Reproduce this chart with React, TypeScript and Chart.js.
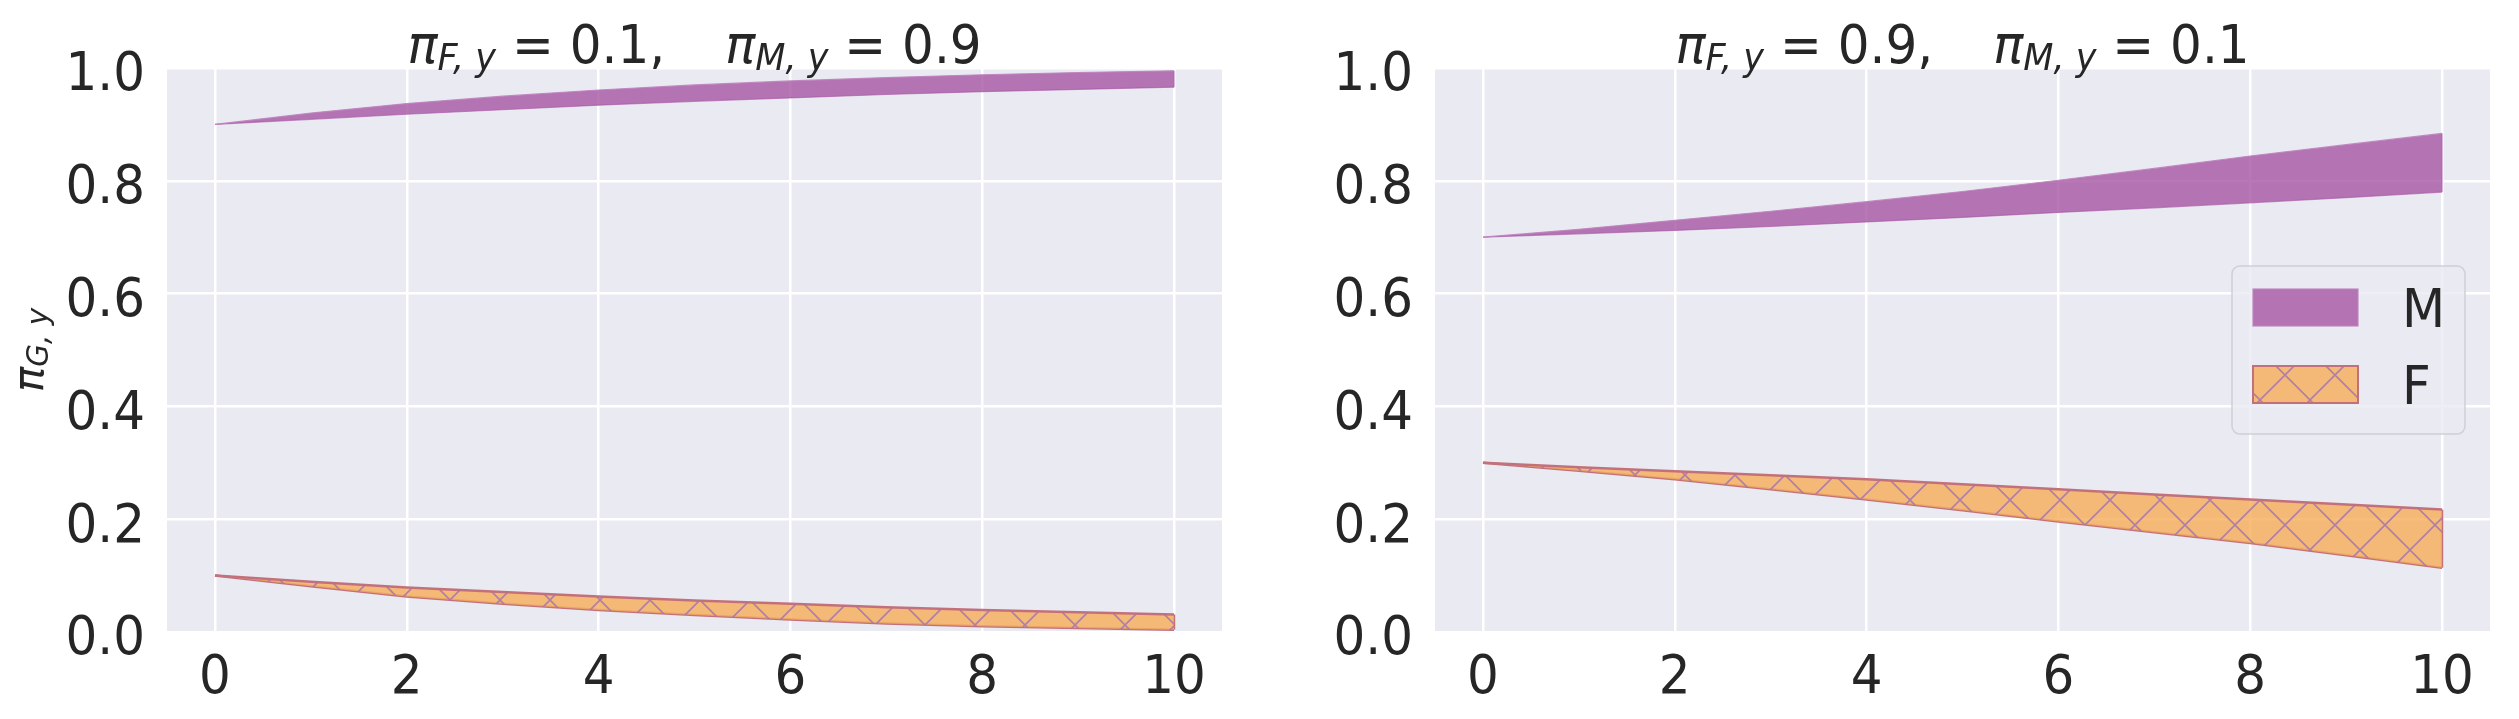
import React, { useEffect, useRef } from 'react';
import { Chart, registerables } from 'chart.js';

Chart.register(...registerables);

// Time steps and axis ticks
const steps = [0, 1, 2, 3, 4, 5, 6, 7, 8, 9, 10];
const xTicks = [0, 2, 4, 6, 8, 10];
const yTicks = [0, 0.2, 0.4, 0.6, 0.8, 1.0];

// Panel 1: pi_F,y = 0.1, pi_M,y = 0.9
const leftPiF = '0.1';
const leftPiM = '0.9';
const leftMUpper = [0.900, 0.920, 0.937, 0.950, 0.961, 0.970, 0.977, 0.983, 0.988, 0.992, 0.995];
const leftMLower = [0.900, 0.909, 0.918, 0.926, 0.934, 0.941, 0.947, 0.953, 0.958, 0.962, 0.966];
const leftFUpper = [0.100, 0.089, 0.079, 0.071, 0.063, 0.056, 0.050, 0.044, 0.039, 0.035, 0.031];
const leftFLower = [0.100, 0.081, 0.063, 0.050, 0.039, 0.030, 0.022, 0.015, 0.010, 0.007, 0.004];

// Panel 2: pi_F,y = 0.9, pi_M,y = 0.1
const rightPiF = '0.9';
const rightPiM = '0.1';
const rightMUpper = [0.700, 0.714, 0.730, 0.746, 0.763, 0.781, 0.801, 0.822, 0.844, 0.864, 0.884];
const rightMLower = [0.700, 0.706, 0.712, 0.719, 0.727, 0.735, 0.744, 0.752, 0.761, 0.770, 0.780];
const rightFUpper = [0.300, 0.292, 0.285, 0.278, 0.271, 0.262, 0.253, 0.244, 0.235, 0.226, 0.217];
const rightFLower = [0.300, 0.286, 0.271, 0.253, 0.235, 0.216, 0.196, 0.177, 0.158, 0.136, 0.114];

const groupNames = ['M', 'F'];

const FONT = '"DejaVu Sans", sans-serif';
const TEXT = '#262626';
const PANEL_BG = '#eaeaf2';
const M_FILL = 'rgba(166, 86, 163, 0.8)';
const M_EDGE = 'rgba(190, 130, 190, 0.9)';
const F_FILL = 'rgba(247, 175, 92, 0.82)';
const F_EDGE = '#c2717c';
const F_HATCH = '#b07fa6';
const TEXT_SIZE = 50;
const STRETCH = 1.06; // glyphs are a little taller than wide

type Part = { t?: string; sub?: boolean; italic?: boolean; gap?: number };

// Text drawn with a slight vertical stretch about its baseline
function drawText(ctx: CanvasRenderingContext2D, text: string, x: number, baseline: number, align: CanvasTextAlign, size: number) {
  ctx.save();
  ctx.translate(x, baseline);
  ctx.scale(1, STRETCH);
  ctx.font = `${size}px ${FONT}`;
  ctx.textAlign = align;
  ctx.textBaseline = 'alphabetic';
  ctx.fillStyle = TEXT;
  ctx.fillText(text, 0, 0);
  ctx.restore();
}

function drawMath(ctx: CanvasRenderingContext2D, parts: Part[], cx: number, baseline: number, size: number, stretch: number) {
  const subSize = size * 0.7;
  const fontOf = (p: Part) => `${p.italic ? 'italic ' : ''}${p.sub ? subSize : size}px ${FONT}`;
  const widths = parts.map((p) => {
    if (p.gap) return p.gap * size;
    ctx.font = fontOf(p);
    return ctx.measureText(p.t || '').width;
  });
  const total = widths.reduce((a, b) => a + b, 0);
  let x = cx - total / 2;
  ctx.save();
  ctx.textAlign = 'left';
  ctx.textBaseline = 'alphabetic';
  ctx.fillStyle = TEXT;
  parts.forEach((p, i) => {
    if (!p.gap) {
      ctx.save();
      ctx.translate(x, baseline + (p.sub ? size * 0.13 : 0));
      ctx.scale(1, stretch);
      ctx.font = fontOf(p);
      ctx.fillText(p.t || '', 0, 0);
      ctx.restore();
    }
    x += widths[i];
  });
  ctx.restore();
}

function titleParts(piF: string, piM: string): Part[] {
  return [
    { t: 'π', italic: true },
    { t: 'F, y', italic: true, sub: true },
    { t: ' = ' + piF + ',' },
    { gap: 1.2 },
    { t: 'π', italic: true },
    { t: 'M, y', italic: true, sub: true },
    { t: ' = ' + piM },
  ];
}

function makeHatch(): CanvasPattern | string {
  const tile = document.createElement('canvas');
  const s = 50;
  tile.width = s;
  tile.height = s;
  const c = tile.getContext('2d');
  if (!c) return F_FILL;
  c.fillStyle = F_FILL;
  c.fillRect(0, 0, s, s);
  c.strokeStyle = F_HATCH;
  c.lineWidth = 1.6;
  c.beginPath();
  c.moveTo(-5, -5);
  c.lineTo(s + 5, s + 5);
  c.moveTo(-5, s + 5);
  c.lineTo(s + 5, -5);
  c.stroke();
  const pat = c.createPattern(tile, 'repeat');
  return pat || F_FILL;
}

type PanelSpec = {
  piF: string;
  piM: string;
  mUpper: number[];
  mLower: number[];
  fUpper: number[];
  fLower: number[];
  yLabel: boolean;
  legend: boolean;
  axisWidth: number;
  padRight: number;
};

function buildChart(canvas: HTMLCanvasElement, spec: PanelSpec): Chart {
  const hatch = makeHatch();
  const pts = (arr: number[]) => steps.map((x, i) => ({ x, y: arr[i] }));
  const last = steps.length - 1;
  const endEdge = (lo: number[], hi: number[]) => [
    { x: steps[last], y: lo[last] },
    { x: steps[last], y: hi[last] },
  ];

  const common = { pointRadius: 0, pointHoverRadius: 0, tension: 0 };

  const panelPlugin = {
    id: 'panelDecor',
    beforeDraw(chart: any) {
      const { ctx, chartArea } = chart;
      ctx.save();
      ctx.fillStyle = PANEL_BG;
      ctx.fillRect(chartArea.left, chartArea.top, chartArea.right - chartArea.left, chartArea.bottom - chartArea.top);
      ctx.restore();
    },
    afterDraw(chart: any) {
      const { ctx, chartArea, scales } = chart;
      const cx = (chartArea.left + chartArea.right) / 2;

      // tick labels
      const capHalf = (0.729 * TEXT_SIZE * STRETCH) / 2;
      yTicks.forEach((v) => {
        const py = scales.y.getPixelForValue(v);
        drawText(ctx, v.toFixed(1), chartArea.left - 22, py + 3 + capHalf, 'right', TEXT_SIZE);
      });
      xTicks.forEach((v) => {
        const px = scales.x.getPixelForValue(v);
        drawText(ctx, String(v), px, chartArea.bottom + 61, 'center', TEXT_SIZE);
      });

      drawMath(ctx, titleParts(spec.piF, spec.piM), cx, 63, TEXT_SIZE, STRETCH);

      if (spec.yLabel) {
        const cy = (chartArea.top + chartArea.bottom) / 2;
        ctx.save();
        ctx.translate(43, cy);
        ctx.rotate(-Math.PI / 2);
        drawMath(ctx, [{ t: 'π', italic: true }, { t: 'G, y', italic: true, sub: true }], 0, 0, 42, 1);
        ctx.restore();
      }

      if (spec.legend) {
        const w = 233;
        const h = 168;
        const right = chartArea.right - 25;
        const left = right - w;
        const top = (chartArea.top + chartArea.bottom) / 2 - h / 2;
        ctx.save();
        ctx.beginPath();
        ctx.roundRect(left, top, w, h, 8);
        ctx.fillStyle = 'rgba(234, 234, 242, 0.8)';
        ctx.fill();
        ctx.lineWidth = 1.5;
        ctx.strokeStyle = 'rgba(204, 204, 210, 0.9)';
        ctx.stroke();

        const fills = [M_FILL, hatch];
        const edges = [M_EDGE, F_EDGE];
        const edgeW = [1.2, 2];
        groupNames.forEach((name, i) => {
          const py = top + 23 + i * 77;
          ctx.fillStyle = PANEL_BG;
          ctx.fillRect(left + 21, py, 105, 37);
          ctx.fillStyle = fills[i] as any;
          ctx.fillRect(left + 21, py, 105, 37);
          ctx.lineWidth = edgeW[i];
          ctx.strokeStyle = edges[i];
          ctx.strokeRect(left + 21, py, 105, 37);
          drawText(ctx, name, left + 170, py + 18.5 + capHalf, 'left', TEXT_SIZE);
        });
        ctx.restore();
      }
    },
  };

  return new Chart(canvas, {
    type: 'line',
    data: {
      datasets: [
        { ...common, label: groupNames[0], data: pts(spec.mUpper), borderColor: M_EDGE, borderWidth: 1.2, backgroundColor: M_FILL, fill: '+1' },
        { ...common, label: groupNames[0] + ' lower', data: pts(spec.mLower), borderColor: M_EDGE, borderWidth: 1.2, fill: false },
        { ...common, label: groupNames[0] + ' end', data: endEdge(spec.mLower, spec.mUpper), borderColor: M_EDGE, borderWidth: 1.2, fill: false },
        { ...common, label: groupNames[1], data: pts(spec.fUpper), borderColor: F_EDGE, borderWidth: 2.5, backgroundColor: hatch as any, fill: '+1' },
        { ...common, label: groupNames[1] + ' lower', data: pts(spec.fLower), borderColor: F_EDGE, borderWidth: 2.5, fill: false },
        { ...common, label: groupNames[1] + ' end', data: endEdge(spec.fLower, spec.fUpper), borderColor: F_EDGE, borderWidth: 2.5, fill: false },
      ],
    },
    options: {
      animation: false,
      responsive: false,
      maintainAspectRatio: false,
      events: [],
      layout: { padding: { top: 68, right: spec.padRight, left: 0, bottom: 0 } },
      plugins: {
        legend: { display: false },
        tooltip: { enabled: false },
        title: { display: false },
      },
      scales: {
        x: {
          type: 'linear',
          min: -0.5,
          max: 10.5,
          afterBuildTicks: (s: any) => {
            s.ticks = xTicks.map((v) => ({ value: v }));
          },
          afterFit: (s: any) => {
            s.height = 87;
          },
          grid: { color: '#ffffff', lineWidth: 2.5, drawTicks: false },
          border: { display: false },
          ticks: { display: false },
        },
        y: {
          type: 'linear',
          min: 0,
          max: 1,
          afterBuildTicks: (s: any) => {
            s.ticks = yTicks.map((v) => ({ value: v }));
          },
          afterFit: (s: any) => {
            s.width = spec.axisWidth;
          },
          grid: { color: '#ffffff', lineWidth: 2.5, drawTicks: false },
          border: { display: false },
          ticks: { display: false },
        },
      },
    },
    plugins: [panelPlugin],
  } as any);
}

export default function App() {
  const leftRef = useRef<HTMLCanvasElement | null>(null);
  const rightRef = useRef<HTMLCanvasElement | null>(null);

  useEffect(() => {
    if (!leftRef.current || !rightRef.current) return;
    const a = buildChart(leftRef.current, {
      piF: leftPiF,
      piM: leftPiM,
      mUpper: leftMUpper,
      mLower: leftMLower,
      fUpper: leftFUpper,
      fLower: leftFLower,
      yLabel: true,
      legend: false,
      axisWidth: 167,
      padRight: 38,
    });
    const b = buildChart(rightRef.current, {
      piF: rightPiF,
      piM: rightPiM,
      mUpper: rightMUpper,
      mLower: rightMLower,
      fUpper: rightFUpper,
      fLower: rightFLower,
      yLabel: false,
      legend: true,
      axisWidth: 175,
      padRight: 29,
    });
    return () => {
      a.destroy();
      b.destroy();
    };
  }, []);

  return (
    <div style={{ position: 'absolute', left: 0, top: 0, width: 2519, height: 719, background: '#ffffff', display: 'flex' }}>
      <canvas ref={leftRef} width={1260} height={719} style={{ width: 1260, height: 719, display: 'block' }} />
      <canvas ref={rightRef} width={1259} height={719} style={{ width: 1259, height: 719, display: 'block' }} />
    </div>
  );
}
